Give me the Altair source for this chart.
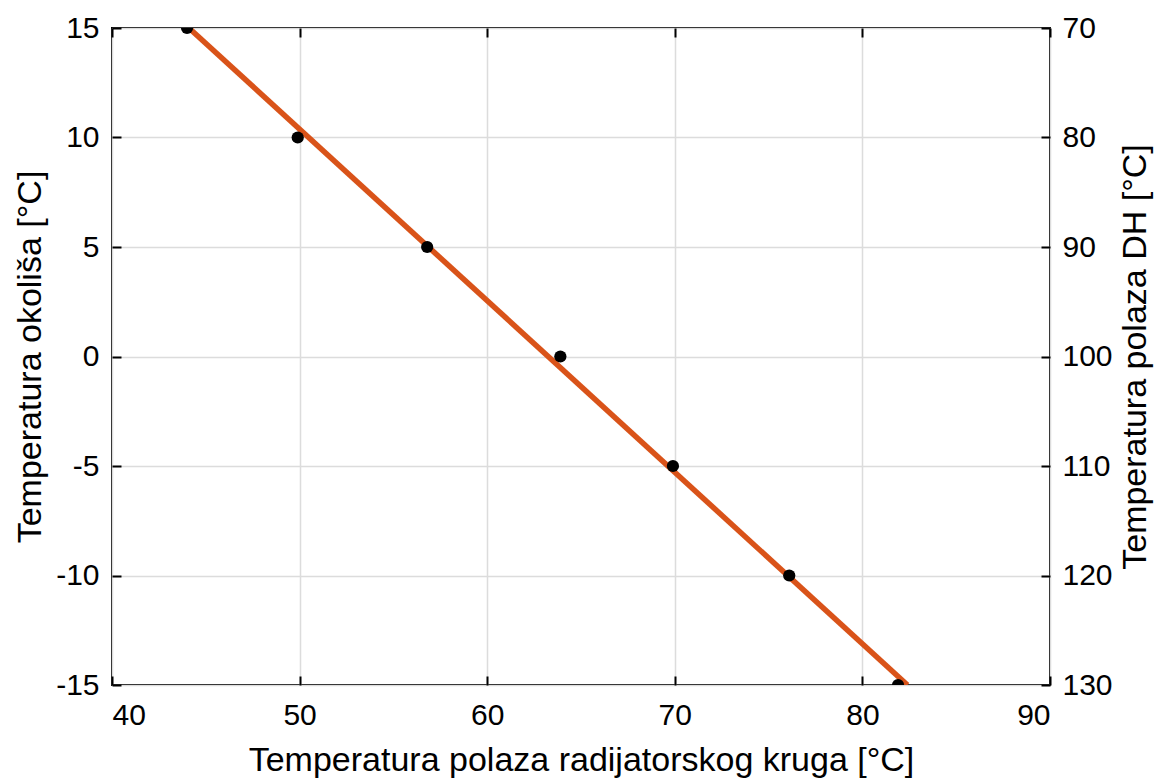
import altair as alt
import pandas as pd

# measured points
x_vals = [44.0, 49.9, 56.8, 63.9, 69.9, 76.1, 81.9]
y_vals = [15, 10, 5, 0, -5, -10, -15]
# fitted line endpoints
fit_x = [44.1, 82.4]
fit_y = [15, -15]
# right axis (DH supply temperature)
dh_ticks = [70, 80, 90, 100, 110, 120, 130]

pts = pd.DataFrame({"x": x_vals, "y": y_vals})
fit = pd.DataFrame({"x": fit_x, "y": fit_y})
dh = pd.DataFrame({"dh": [dh_ticks[0], dh_ticks[-1]]})

FONT = "Liberation Sans"
xs = alt.Scale(domain=[40, 90], nice=False, zero=False)
ys = alt.Scale(domain=[-15, 15], nice=False, zero=False)
x_ticks = [40, 50, 60, 70, 80, 90]
y_ticks = [-15, -10, -5, 0, 5, 10, 15]

label_style = dict(labelFont=FONT, labelFontSize=30, labelColor="black",
                   titleFont=FONT, titleFontSize=34, titleColor="black",
                   titleFontWeight="normal")

line = alt.Chart(fit).mark_line(color="#D95319", strokeWidth=5.5, clip=True).encode(
    x=alt.X("x:Q", scale=xs, axis=alt.Axis(
        orient="bottom", values=x_ticks, title="Temperatura polaza radijatorskog kruga [°C]",
        grid=True, gridColor="#dcdcdc", gridWidth=1.5, ticks=False, domain=False,
        labelPadding=15, titlePadding=13, labelExpr="'' + datum.value", **label_style)),
    y=alt.Y("y:Q", scale=ys, axis=alt.Axis(
        orient="left", values=y_ticks, title="Temperatura okoliša [°C]",
        grid=True, gridColor="#dcdcdc", gridWidth=1.5, ticks=False, domain=False,
        labelPadding=13, titlePadding=8, labelExpr="'' + datum.value", **label_style)),
)

points = alt.Chart(pts).mark_circle(color="black", size=150, opacity=1, clip=True).encode(
    x=alt.X("x:Q", scale=xs, axis=None),
    y=alt.Y("y:Q", scale=ys, axis=None),
)

tick_style = dict(ticks=True, tickSize={"expr": "-9"}, tickWidth=2, tickColor="black",
                  labels=False, domain=False, grid=False, title=None)

ticks_bl = alt.Chart(pts).mark_point(opacity=0).encode(
    x=alt.X("x:Q", scale=xs, axis=alt.Axis(orient="bottom", values=x_ticks, **tick_style)),
    y=alt.Y("y:Q", scale=ys, axis=alt.Axis(orient="left", values=y_ticks, **tick_style)),
)

ticks_tr = alt.Chart(pts).mark_point(opacity=0).encode(
    x=alt.X("x:Q", scale=xs, axis=alt.Axis(orient="top", values=x_ticks, **tick_style)),
    y=alt.Y("y:Q", scale=ys, axis=alt.Axis(orient="right", values=y_ticks, **tick_style)),
)

right_axis = alt.Chart(dh).mark_point(opacity=0).encode(
    y=alt.Y("dh:Q", scale=alt.Scale(domain=[70, 130], reverse=True, nice=False, zero=False),
            axis=alt.Axis(orient="right", values=dh_ticks, title="Temperatura polaza DH [°C]",
                          ticks=False, domain=False, grid=False, labelPadding=12,
                          titlePadding=6, titleAngle=270, titleBaseline="top",
                          labelExpr="'' + datum.value", **label_style)),
)

chart = alt.layer(line, points, ticks_bl, ticks_tr, right_axis).resolve_scale(
    x="independent", y="independent"
).properties(
    width=938, height=657,
    autosize=alt.AutoSizeParams(type="none"),
    padding={"left": 104, "top": 20, "right": 105, "bottom": 95},
    background="white",
).configure_view(stroke="black", strokeWidth=2)

chart.save("out.html", embed_options={"renderer": "svg", "actions": False})
